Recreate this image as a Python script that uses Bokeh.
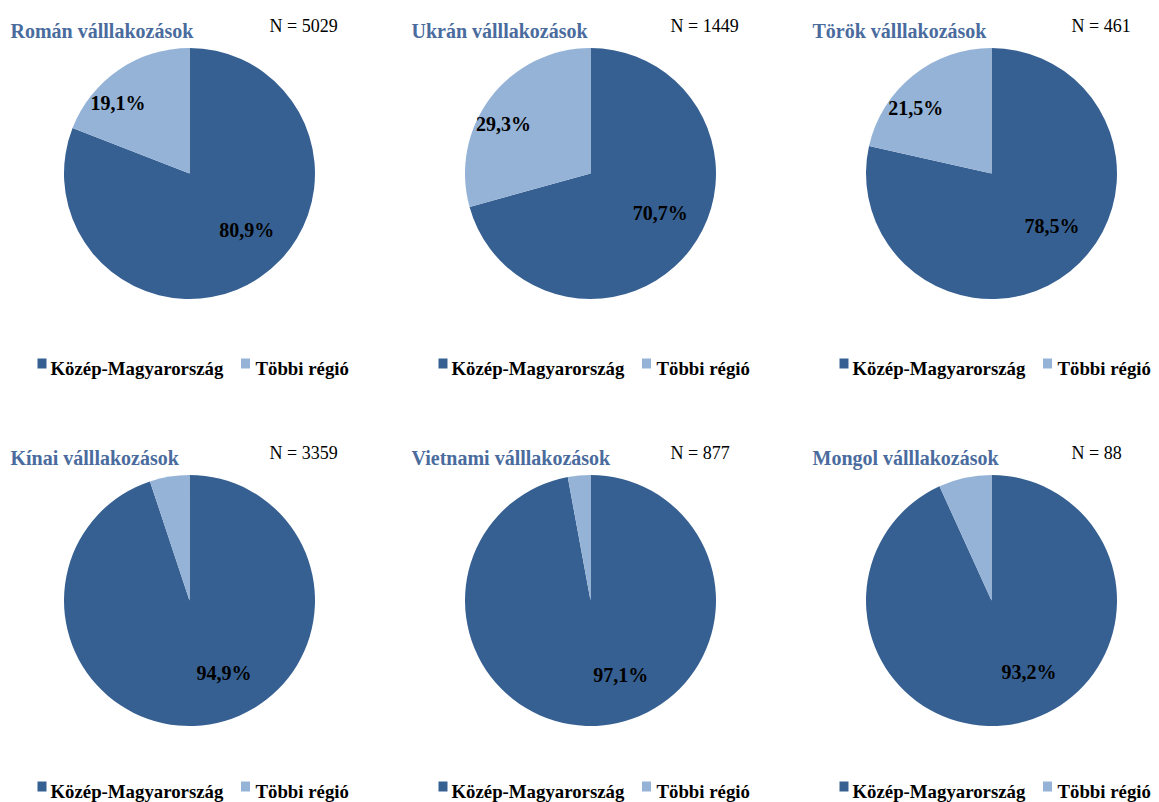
import math
from bokeh.plotting import figure
from bokeh.models import Range1d, ColumnDataSource
from bokeh.embed import file_html
from bokeh.resources import INLINE
from bokeh.core.properties import value

# ---------------- data ----------------
titles = ["Román válllakozások", "Ukrán válllakozások", "Török válllakozások",
          "Kínai válllakozások", "Vietnami válllakozások", "Mongol válllakozások"]
n_values = [5029, 1449, 461, 3359, 877, 88]
kozep_pct = [80.9, 70.7, 78.5, 94.9, 97.1, 93.2]
tobbi_pct = [19.1, 29.3, 21.5, 5.1, 2.9, 6.8]
categories = ["Közép-Magyarország", "Többi régió"]

# ---------------- style / layout ----------------
colors = ["#376092", "#95B3D7"]
title_color = "#4A6B9D"
FONT = value("Liberation Serif")
W, H = 1159, 802
R = 125.5
col_cx = [189, 590, 991]   # screen px pie centres
row_cy = [173, 600]
legend_base = [368, 791]   # screen px legend text baselines per row

def X(sx):
    return sx

def Y(sy):
    return H - sy

p = figure(width=W, height=H, x_range=Range1d(0, W), y_range=Range1d(0, H),
           output_backend="svg", toolbar_location=None, min_border=0)
p.axis.visible = False
p.grid.visible = False
p.outline_line_color = None
p.background_fill_color = "white"
p.border_fill_color = "white"

wx, wy, ws, we, wc = [], [], [], [], []
lx, ly, lt = [], [], []
tx, ty = [], []
nx, ny, nt = [], [], []
sqx, sqy, sqc = [], [], []
gx, gy, gt = [], [], []

for i in range(6):
    cx = col_cx[i % 3]
    cy = row_cy[i // 3]
    lb = legend_base[i // 3]
    shares = [kozep_pct[i], tobbi_pct[i]]
    start_clock = 0.0  # degrees clockwise from 12 o'clock
    for k, s in enumerate(shares):
        end_clock = start_clock + s * 3.6
        wx.append(X(cx)); wy.append(Y(cy))
        ws.append(math.pi / 2 - math.radians(start_clock))
        we.append(math.pi / 2 - math.radians(end_clock))
        wc.append(colors[k])
        if s >= 10:
            mid = (start_clock + end_clock) / 2
            if mid > 180:
                mid -= 360
            target = 90 if mid >= 0 else -90
            a = math.radians(mid + 0.2 * (target - mid))
            d = (0.64 if s > 50 else 0.8) * R
            lx.append(X(cx + d * math.sin(a)))
            ly.append(Y(cy - d * math.cos(a)))
            lt.append(f"{s:.1f}".replace(".", ",") + "%")
        start_clock = end_clock
    # titles and N
    tx.append(X(cx - 179)); ty.append(Y(cy - 143))
    nx.append(X(cx + 80)); ny.append(Y(cy - 148))
    nt.append(f"N = {n_values[i]}")
    # legend
    for k, off_sq, off_tx in [(0, -147.5, -139), (1, 56, 66)]:
        sqx.append(X(cx + off_sq)); sqy.append(Y(lb - 5)); sqc.append(colors[k])
        gx.append(X(cx + off_tx)); gy.append(Y(lb)); gt.append(categories[k])

p.wedge(x="x", y="y", radius=R, start_angle="s", end_angle="e", direction="clock",
        fill_color="c", line_color=None,
        source=ColumnDataSource(dict(x=wx, y=wy, s=ws, e=we, c=wc)))

p.text(x=lx, y=ly, text=lt, text_font=FONT, text_font_style="bold",
       text_font_size="20px", text_color="black", text_align="center",
       text_baseline="middle")

p.text(x=tx, y=ty, text=titles, text_font=FONT, text_font_style="bold",
       text_font_size="20px", text_color=title_color, text_align="left",
       text_baseline="alphabetic")

p.text(x=nx, y=ny, text=nt, text_font=FONT, text_font_size="18px",
       text_color="black", text_align="left", text_baseline="alphabetic")

p.rect(x=sqx, y=sqy, width=9, height=10, fill_color=sqc, line_color=None)

p.text(x=gx, y=gy, text=gt, text_font=FONT, text_font_style="bold",
       text_font_size="18.8px", text_color="black", text_align="left",
       text_baseline="alphabetic")

open("out.html", "w").write(file_html(p, INLINE))
